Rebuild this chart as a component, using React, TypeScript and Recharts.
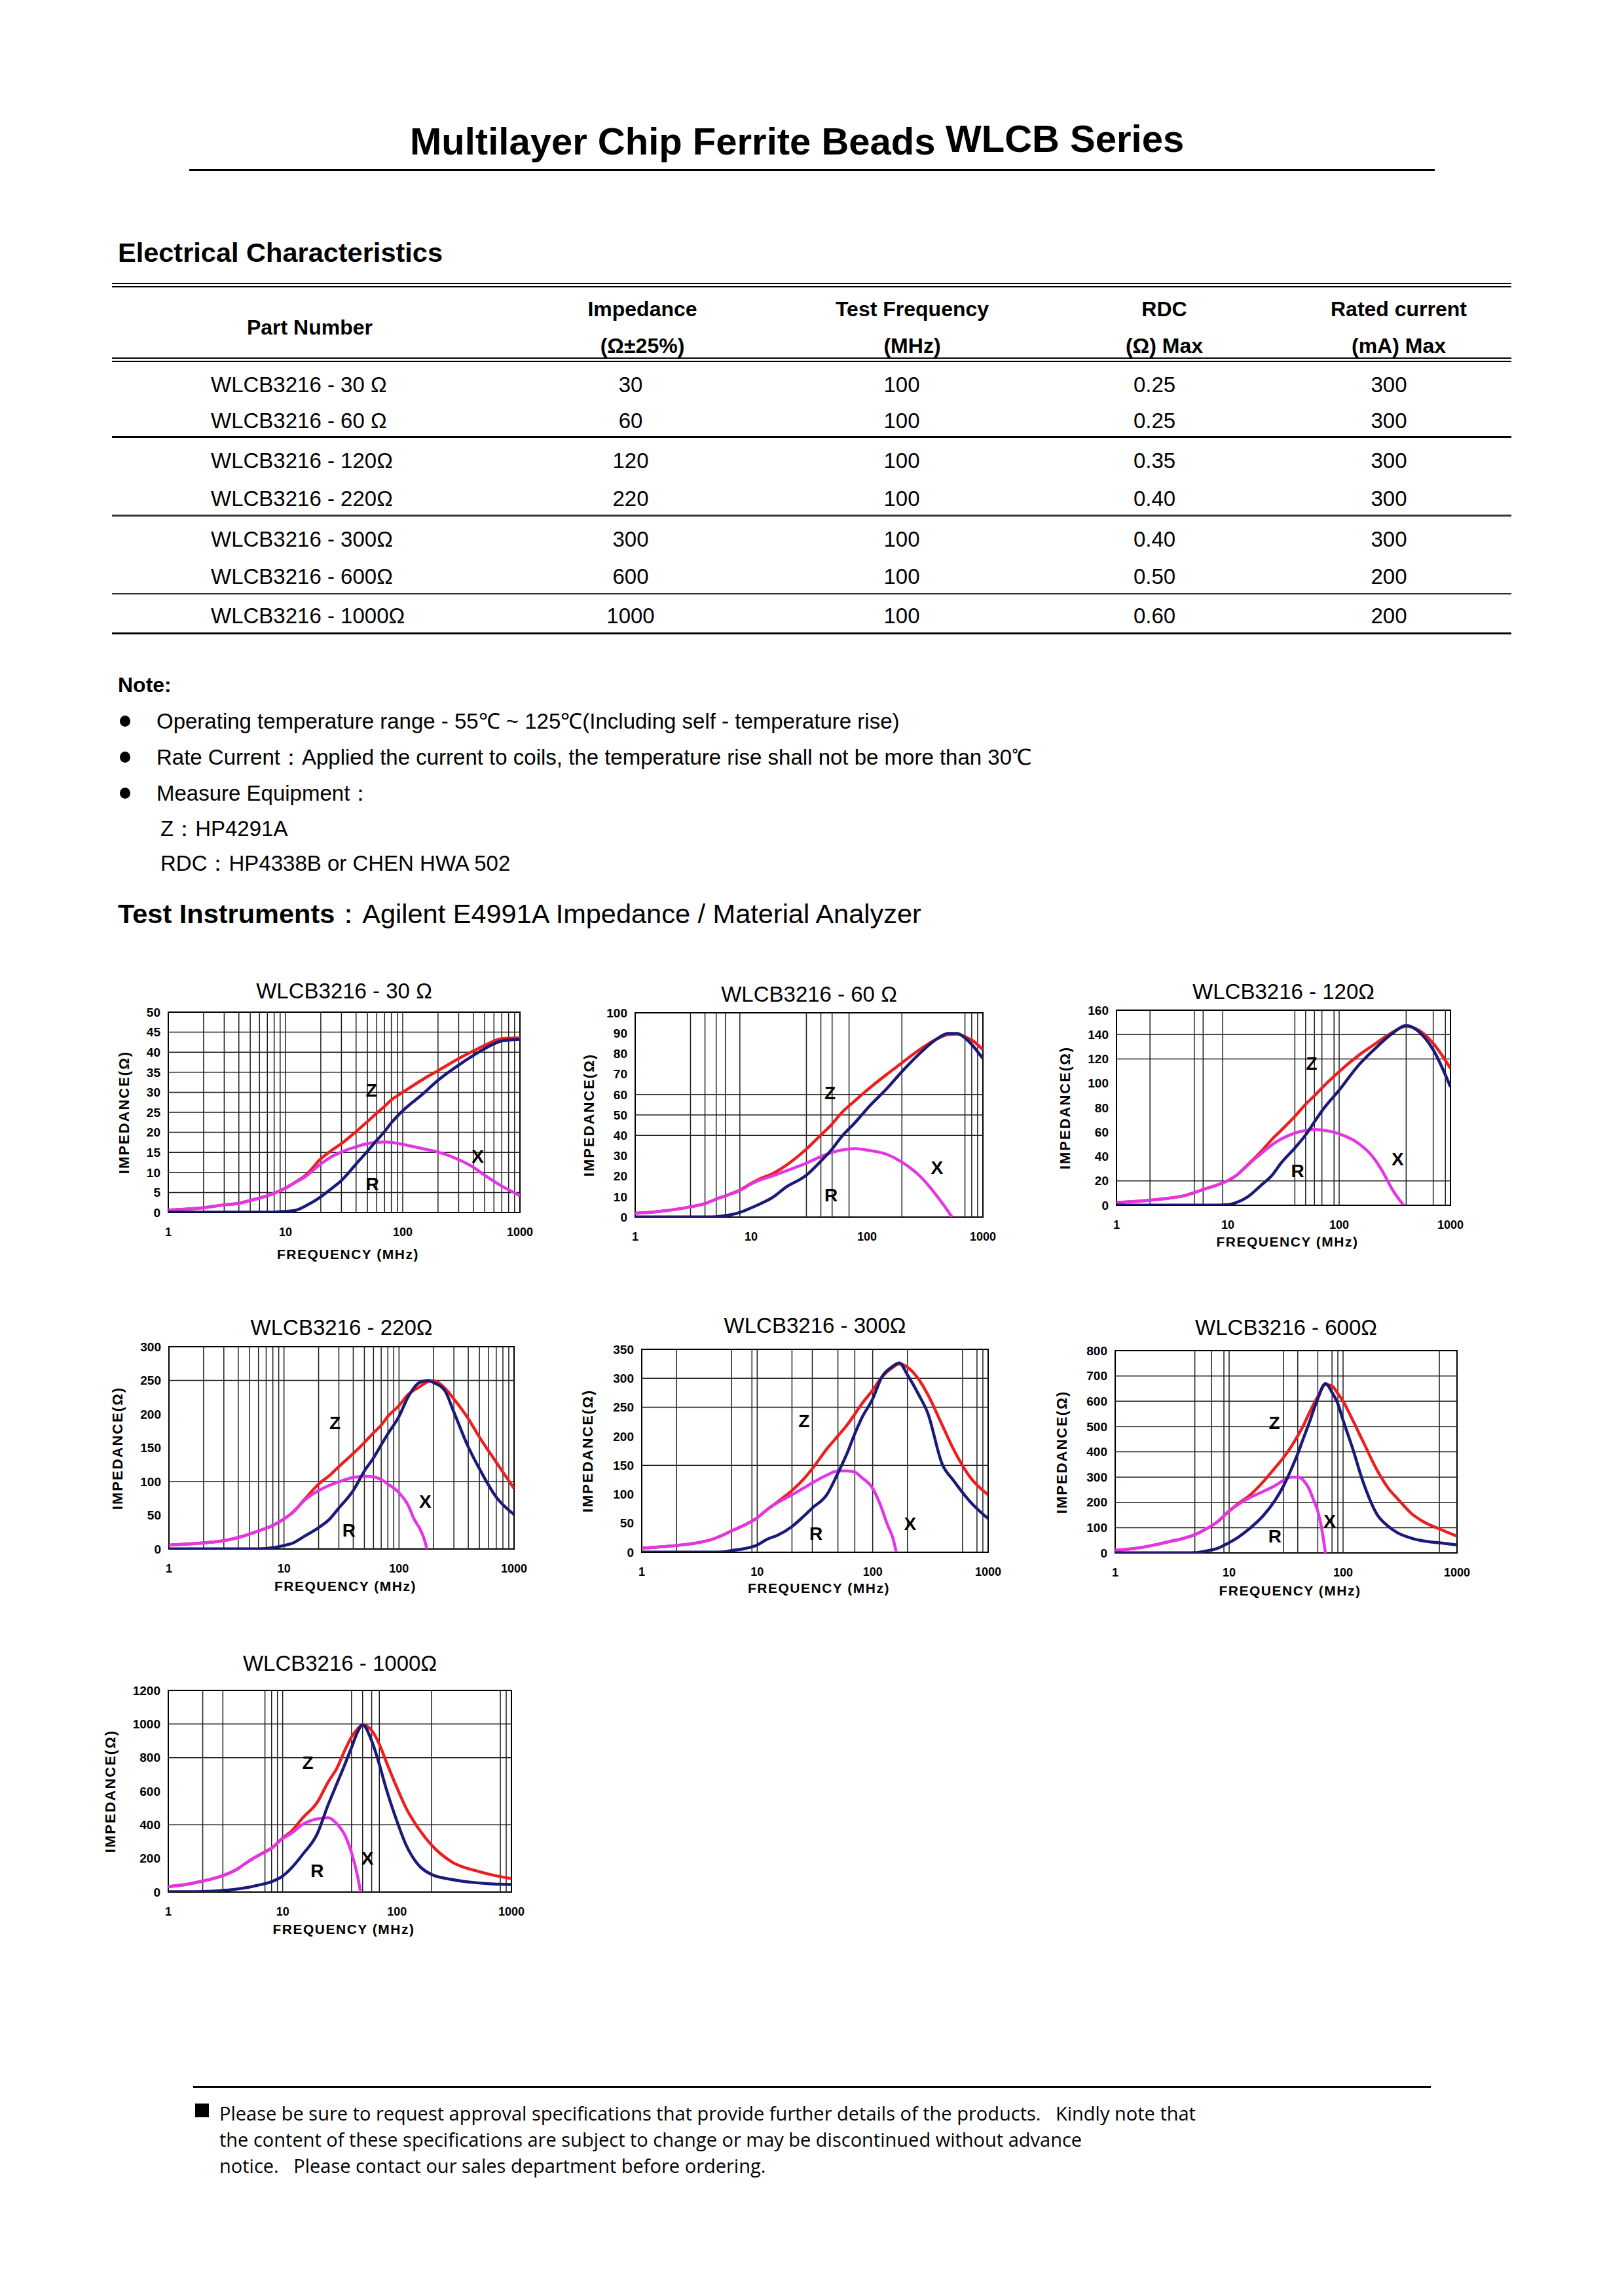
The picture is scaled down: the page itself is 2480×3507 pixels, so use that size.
import React from 'react';
import {
  LineChart,
  Line,
  XAxis,
  YAxis,
  ReferenceLine,
  ReferenceArea,
  ReferenceDot,
} from 'recharts';

const FONT = '"Liberation Sans", Arial, Helvetica, sans-serif';
const RED = '#ec1f1f';
const NAVY = '#1a1a78';
const MAGENTA = '#e435e4';
const GRID = '#1e1e1e';

// ---- table data ----
const partNumbers = [
  'WLCB3216 - 30 Ω',
  'WLCB3216 - 60 Ω',
  'WLCB3216 - 120Ω',
  'WLCB3216 - 220Ω',
  'WLCB3216 - 300Ω',
  'WLCB3216 - 600Ω',
  'WLCB3216 - 1000Ω',
];
const impedances = ['30', '60', '120', '220', '300', '600', '1000'];
const testFreqs = ['100', '100', '100', '100', '100', '100', '100'];
const rdcMax = ['0.25', '0.25', '0.35', '0.40', '0.40', '0.50', '0.60'];
const ratedCurrent = ['300', '300', '300', '300', '300', '200', '200'];

// ---- chart data (frequency in MHz, impedance in ohm) ----
const xTicks = [1, 10, 100, 1000];
const fullMinor = [2, 3, 4, 5, 6, 7, 8, 9, 10, 20, 30, 40, 50, 60, 70, 80, 90, 100, 200, 300, 400, 500, 600, 700, 800, 900];

// 30 ohm
const freq30 = [1, 1.5, 2, 3, 4, 5, 6, 7, 8, 10, 12, 15, 20, 25, 30, 40, 50, 60, 70, 80, 100, 150, 200, 300, 400, 500, 700, 1000];
const z30 = [0.6, 0.9, 1.2, 1.9, 2.3, 3.0, 3.6, 4.2, 4.8, 6.1, 7.5, 9.4, 13.4, 15.6, 17.2, 20.2, 22.7, 24.8, 26.5, 28.1, 30.0, 33.3, 35.4, 38.4, 40.3, 41.7, 43.4, 43.6];
const r30 = [0.1, 0.1, 0.1, 0.1, 0.1, 0.1, 0.1, 0.1, 0.1, 0.3, 0.5, 1.7, 3.9, 6.1, 8.0, 12.1, 15.3, 18.0, 20.2, 22.4, 25.4, 29.7, 33.0, 36.8, 39.2, 40.9, 42.8, 43.2];
const xFreq30 = freq30;
const x30 = [0.5, 0.9, 1.2, 1.9, 2.3, 3.0, 3.6, 4.2, 4.8, 6.1, 7.4, 9.1, 12.1, 14.0, 15.1, 16.4, 17.2, 17.5, 17.6, 17.5, 17.0, 15.9, 15.1, 13.2, 11.3, 9.3, 6.6, 4.2];
const yTicks30 = [0, 5, 10, 15, 20, 25, 30, 35, 40, 45, 50];
const hGrid30 = [5, 10, 15, 20, 25, 30, 35, 40, 45];
const vGrid30 = fullMinor;
const marks30 = [{ t: 'Z', f: 54, v: 30.5 }, { t: 'R', f: 55, v: 7.2 }, { t: 'X', f: 437, v: 14 }];

// 60 ohm
const freq60 = [1, 1.5, 2, 3, 4, 5, 6, 8, 10, 12, 15, 20, 30, 40, 50, 60, 80, 100, 150, 200, 300, 400, 500, 600, 700, 800, 1000];
const z60 = [1.9, 2.6, 3.4, 5.0, 6.6, 8.8, 10.4, 13.2, 16.5, 18.8, 21.0, 25.3, 33.3, 40.2, 45.6, 50.9, 57.3, 62.1, 70.1, 75.5, 82.9, 87.2, 89.3, 89.6, 88.3, 86.7, 81.9];
const r60 = [0.1, 0.1, 0.1, 0.1, 0.1, 0.2, 0.7, 2.3, 4.5, 6.5, 9.3, 14.6, 20.5, 27.4, 33.3, 39.2, 46.6, 53.0, 63.2, 71.2, 81.3, 87.2, 89.9, 89.9, 87.7, 84.5, 77.6];
const xFreq60 = [1, 1.5, 2, 3, 4, 5, 6, 8, 10, 12, 15, 20, 30, 40, 50, 60, 80, 100, 150, 200, 300, 400, 500, 540];
const x60 = [1.8, 2.6, 3.4, 5.0, 6.6, 8.8, 10.4, 13.0, 16.2, 18.2, 20.0, 22.6, 26.4, 29.6, 31.7, 32.8, 33.5, 32.8, 30.6, 26.9, 18.9, 10.4, 2.9, 0];
const yTicks60 = [0, 10, 20, 30, 40, 50, 60, 70, 80, 90, 100];
const hGrid60 = [40, 50, 60];
const vGrid60 = [3, 4, 5, 6, 8, 30, 40, 50, 70, 200, 700, 800, 900];
const marks60 = [{ t: 'Z', f: 48, v: 61 }, { t: 'R', f: 49, v: 10.9 }, { t: 'X', f: 402, v: 24.2 }];

// 120 ohm
const freq120 = [1, 1.5, 2, 3, 4, 5, 6, 8, 10, 12, 15, 20, 25, 30, 40, 50, 60, 70, 100, 150, 200, 300, 400, 500, 700, 1000];
const z120 = [2.3, 3.2, 4.1, 5.9, 7.7, 10.4, 13.0, 16.6, 20.2, 24.7, 33.0, 44.3, 54.2, 61.3, 72.9, 82.8, 89.9, 96.2, 109.6, 123.0, 131.0, 141.8, 146.8, 144.4, 132.8, 112.3];
const r120 = [0.2, 0.2, 0.2, 0.2, 0.2, 0.2, 0.2, 0.2, 0.5, 2.3, 6.8, 16.6, 24.7, 34.5, 47.0, 57.7, 68.5, 77.4, 94.4, 115.0, 126.6, 140.9, 147.5, 143.6, 127.5, 97.1];
const xFreq120 = [1, 1.5, 2, 3, 4, 5, 6, 8, 10, 12, 15, 20, 25, 30, 40, 50, 60, 70, 100, 150, 200, 250, 300, 350, 380];
const x120 = [2.3, 3.2, 4.1, 5.9, 7.7, 10.4, 13.0, 16.6, 20.2, 24.7, 32.7, 42.5, 49.7, 54.2, 59.2, 61.3, 62.2, 61.7, 58.6, 50.6, 39.9, 26.5, 13.0, 4.1, 0];
const yTicks120 = [0, 20, 40, 60, 80, 100, 120, 140, 160];
const hGrid120 = [20, 120, 140];
const vGrid120 = [2, 5, 6, 9, 40, 50, 60, 70, 90, 100, 400, 700, 900];
const marks120 = [{ t: 'Z', f: 56.7, v: 116.7 }, { t: 'R', f: 42.4, v: 28.2 }, { t: 'X', f: 335, v: 38 }];

// 220 ohm
const freq220 = [1, 1.5, 2, 3, 4, 5, 6, 8, 10, 12, 15, 20, 25, 30, 40, 50, 60, 70, 80, 100, 120, 150, 180, 200, 250, 300, 400, 500, 700, 1000];
const z220 = [5.8, 7.5, 9.0, 12.3, 17.0, 22.0, 26.8, 35.0, 44.6, 55.0, 73.0, 96.3, 109.3, 122.2, 141.6, 157.8, 172.3, 183.6, 196.6, 212.7, 228.9, 240.2, 248.3, 249.3, 238.6, 222.4, 193.3, 165.9, 128.7, 89.9];
const r220 = [0.3, 0.3, 0.3, 0.3, 0.3, 0.3, 0.3, 1.9, 5.2, 9.0, 18.8, 31.7, 44.6, 60.8, 86.6, 115.7, 135.1, 154.5, 170.7, 196.6, 225.7, 246.7, 250.0, 246.7, 235.0, 203.0, 151.3, 119.0, 77.0, 51.1];
const xFreq220 = [1, 1.5, 2, 3, 4, 5, 6, 8, 10, 12, 15, 20, 25, 30, 40, 50, 60, 70, 80, 100, 120, 135, 150, 165, 175];
const x220 = [5.8, 7.5, 9.0, 12.3, 17.0, 22.0, 26.8, 35.0, 44.6, 54.3, 72.0, 86.6, 94.7, 99.6, 106.0, 107.7, 107.0, 102.8, 96.3, 83.4, 65.0, 44.6, 31.7, 15.5, 0];
const yTicks220 = [0, 50, 100, 150, 200, 250, 300];
const hGrid220 = [100, 250];
const vGrid220 = fullMinor;
const marks220 = [{ t: 'Z', f: 27.8, v: 187 }, { t: 'R', f: 36.7, v: 28.5 }, { t: 'X', f: 169, v: 70.5 }];

// 300 ohm
const freq300 = [1, 1.5, 2, 3, 4, 5, 6, 8, 10, 12, 15, 20, 25, 30, 40, 50, 60, 70, 80, 100, 120, 150, 170, 200, 250, 300, 400, 500, 700, 1000];
const z300 = [7.0, 9.5, 11.7, 16.2, 21.8, 29.4, 36.9, 48.2, 59.5, 72.6, 87.0, 106.5, 125.3, 144.1, 178.0, 200.6, 219.4, 238.2, 255.2, 279.6, 302.2, 319.2, 324.8, 319.2, 298.5, 272.1, 219.4, 178.0, 129.1, 99.0];
const r300 = [0.3, 0.3, 0.3, 0.3, 0.3, 0.5, 3.0, 6.8, 12.4, 21.8, 29.4, 44.4, 61.3, 76.4, 99.0, 136.6, 170.5, 204.4, 230.7, 264.6, 302.2, 321.0, 326.7, 306.0, 272.0, 240.0, 152.0, 124.0, 87.0, 58.0];
const xFreq300 = [1, 1.5, 2, 3, 4, 5, 6, 8, 10, 12, 15, 20, 25, 30, 40, 50, 60, 70, 80, 100, 115, 135, 150, 160];
const x300 = [6.8, 9.5, 11.7, 16.2, 21.8, 29.4, 36.9, 48.2, 59.5, 72.6, 85.8, 99.0, 110.3, 119.7, 132.9, 140.4, 140.4, 138.5, 129.1, 110.3, 84.7, 46.3, 23.7, 0];
const yTicks300 = [0, 50, 100, 150, 200, 250, 300, 350];
const hGrid300 = [150, 250, 300];
const vGrid300 = [2, 6, 9, 10, 20, 30, 50, 70, 100, 200, 600, 800, 900];
const marks300 = [{ t: 'Z', f: 25.4, v: 227 }, { t: 'R', f: 32.3, v: 33 }, { t: 'X', f: 211, v: 50 }];

// 600 ohm
const freq600 = [1, 1.5, 2, 3, 4, 5, 6, 8, 10, 12, 15, 20, 25, 30, 35, 40, 45, 50, 60, 70, 80, 90, 100, 120, 150, 200, 250, 300, 400, 500, 700, 1000];
const z600 = [10.4, 18.0, 27.6, 44.9, 58.0, 72.0, 90.0, 125.0, 165.7, 195.0, 226.0, 282.1, 333.9, 377.0, 420.0, 463.3, 505.0, 549.6, 618.6, 666.1, 660.0, 630.0, 600.0, 530.0, 440.0, 325.0, 255.0, 215.0, 155.0, 125.0, 95.0, 66.0];
const r600 = [0.5, 0.5, 0.5, 0.5, 0.5, 1.0, 6.0, 19.0, 40.6, 62.0, 95.0, 148.0, 204.5, 265.0, 330.0, 392.0, 455.0, 510.0, 610.0, 670.0, 635.0, 590.0, 525.0, 420.0, 280.0, 150.0, 105.0, 80.0, 58.0, 48.0, 40.0, 32.0];
const xFreq600 = [1, 1.5, 2, 3, 4, 5, 6, 8, 10, 12, 15, 20, 25, 30, 35, 40, 45, 50, 55, 60, 65, 70];
const x600 = [10.4, 18.0, 27.6, 44.9, 58.0, 72.0, 90.0, 125.0, 165.7, 191.5, 217.4, 243.3, 264.9, 286.5, 299.4, 299.4, 286.5, 256.0, 210.0, 165.0, 95.0, 0];
const yTicks600 = [0, 100, 200, 300, 400, 500, 600, 700, 800];
const hGrid600 = [100, 200, 300, 400, 500, 600, 700];
const vGrid600 = [5, 7, 9, 10, 30, 40, 60, 80, 90, 100, 700];
const marks600 = [{ t: 'Z', f: 24.9, v: 515 }, { t: 'R', f: 25.2, v: 66 }, { t: 'X', f: 76.3, v: 127 }];

// 1000 ohm
const freq1000 = [1, 1.5, 2, 3, 4, 5, 6, 7, 8, 10, 12, 15, 20, 25, 30, 35, 40, 45, 50, 60, 70, 80, 100, 120, 150, 200, 300, 500, 700, 1000];
const z1000 = [32.5, 48.0, 65.0, 97.5, 136.5, 182.0, 214.5, 240.0, 262.0, 322.0, 364.0, 442.0, 533.0, 655.0, 741.0, 845.0, 923.0, 970.0, 994.5, 962.0, 880.0, 780.0, 620.0, 500.0, 390.0, 280.0, 180.0, 125.0, 100.0, 80.0];
const r1000 = [2, 2, 3, 10, 18, 28, 40, 50, 62, 95, 145, 225, 345, 520, 650, 760, 860, 950, 994, 900, 760, 620, 420, 280, 170, 105, 75, 55, 48, 45];
const xFreq1000 = [1, 1.5, 2, 3, 4, 5, 6, 8, 10, 12, 15, 20, 25, 30, 35, 40, 45, 48];
const x1000 = [32.5, 48.0, 65.0, 97.5, 136.5, 182.0, 214.5, 260.0, 318.5, 351.0, 403.0, 435.5, 442.0, 403.0, 338.0, 234.0, 100.0, 0];
const yTicks1000 = [0, 200, 400, 600, 800, 1000, 1200];
const hGrid1000 = [400, 800, 1000];
const vGrid1000 = [2, 3, 7, 8, 9, 10, 40, 50, 60, 70, 200, 800, 900];
const marks1000 = [{ t: 'Z', f: 16.6, v: 773 }, { t: 'R', f: 20, v: 130 }, { t: 'X', f: 55, v: 201 }];

type Mark = { t: string; f: number; v: number };
interface ChartCfg {
  title: string;
  px: number;
  py: number;
  pw: number;
  ph: number;
  yMax: number;
  yTicks: number[];
  vGrid: number[];
  hGrid: number[];
  freq: number[];
  z: number[];
  r: number[];
  xFreq: number[];
  x: number[];
  marks: Mark[];
  yGap: number;
  titleY: number;
  freqGap: number | null;
}

const charts: ChartCfg[] = [
  { title: 'WLCB3216 - 30 Ω', px: 257, py: 1546, pw: 537, ph: 306, yMax: 50, yTicks: yTicks30, vGrid: vGrid30, hGrid: hGrid30, freq: freq30, z: z30, r: r30, xFreq: xFreq30, x: x30, marks: marks30, yGap: 67, titleY: 1513, freqGap: 63 },
  { title: 'WLCB3216 - 60 Ω', px: 970, py: 1547, pw: 531, ph: 312, yMax: 100, yTicks: yTicks60, vGrid: vGrid60, hGrid: hGrid60, freq: freq60, z: z60, r: r60, xFreq: xFreq60, x: x60, marks: marks60, yGap: 70, titleY: 1518, freqGap: null },
  { title: 'WLCB3216 - 120Ω', px: 1705, py: 1543, pw: 510, ph: 298, yMax: 160, yTicks: yTicks120, vGrid: vGrid120, hGrid: hGrid120, freq: freq120, z: z120, r: r120, xFreq: xFreq120, x: x120, marks: marks120, yGap: 78, titleY: 1514, freqGap: 55 },
  { title: 'WLCB3216 - 220Ω', px: 258, py: 2057, pw: 527, ph: 309, yMax: 300, yTicks: yTicks220, vGrid: vGrid220, hGrid: hGrid220, freq: freq220, z: z220, r: r220, xFreq: xFreq220, x: x220, marks: marks220, yGap: 78, titleY: 2027, freqGap: 56 },
  { title: 'WLCB3216 - 300Ω', px: 980, py: 2061, pw: 529, ph: 310, yMax: 350, yTicks: yTicks300, vGrid: vGrid300, hGrid: hGrid300, freq: freq300, z: z300, r: r300, xFreq: xFreq300, x: x300, marks: marks300, yGap: 82, titleY: 2024, freqGap: 54 },
  { title: 'WLCB3216 - 600Ω', px: 1703, py: 2063, pw: 522, ph: 309, yMax: 800, yTicks: yTicks600, vGrid: vGrid600, hGrid: hGrid600, freq: freq600, z: z600, r: r600, xFreq: xFreq600, x: x600, marks: marks600, yGap: 81, titleY: 2027, freqGap: 57 },
  { title: 'WLCB3216 - 1000Ω', px: 257, py: 2582, pw: 524, ph: 308, yMax: 1200, yTicks: yTicks1000, vGrid: vGrid1000, hGrid: hGrid1000, freq: freq1000, z: z1000, r: r1000, xFreq: xFreq1000, x: x1000, marks: marks1000, yGap: 88, titleY: 2540, freqGap: 56 },
];

interface TxtProps {
  x: number;
  y: number;
  size: number;
  bold?: boolean;
  align?: 'left' | 'center' | 'right';
  family?: string;
  style?: React.CSSProperties;
  children: React.ReactNode;
}

// text placed by its left/centre x and its vertical centre y
function Txt({ x, y, size, bold, align = 'left', family = FONT, style, children }: TxtProps) {
  const tx = align === 'center' ? '-50%' : align === 'right' ? '-100%' : '0';
  return (
    <div
      style={{
        position: 'absolute',
        left: x,
        top: y,
        transform: `translate(${tx}, -50%)`,
        fontSize: size,
        fontWeight: bold ? 700 : 400,
        fontFamily: family,
        whiteSpace: 'nowrap',
        lineHeight: 1,
        color: '#000',
        ...style,
      }}
    >
      {children}
    </div>
  );
}

function Rule({ x, y, w, h, color = '#000' }: { x: number; y: number; w: number; h: number; color?: string }) {
  return <div style={{ position: 'absolute', left: x, top: y, width: w, height: h, background: color }} />;
}

function ImpedanceChart({ c }: { c: ChartCfg }) {
  const ML = 100;
  const MT = 12;
  const MR = 24;
  const MB = 40;
  const W = ML + c.pw + MR;
  const H = MT + c.ph + MB;
  const zData = c.freq.map((f, i) => ({ f, z: c.z[i] }));
  const rData = c.freq.map((f, i) => ({ f, r: c.r[i] }));
  const xData = c.xFreq.map((f, i) => ({ f, x: c.x[i] }));
  const tickFont = { fontFamily: FONT, fontWeight: 700, fill: '#000' };

  return (
    <>
      <Txt x={c.px + c.pw / 2} y={c.titleY} size={33} align="center">
        {c.title}
      </Txt>
      <div
        style={{
          position: 'absolute',
          left: c.px - c.yGap,
          top: c.py + c.ph / 2,
          transform: 'translate(-50%, -50%) rotate(-90deg)',
          fontFamily: FONT,
          fontWeight: 700,
          fontSize: 22,
          letterSpacing: 2,
          whiteSpace: 'nowrap',
          lineHeight: 1,
        }}
      >
        IMPEDANCE(Ω)
      </div>
      {c.freqGap !== null && (
        <Txt x={c.px + c.pw / 2 + 6} y={c.py + c.ph + c.freqGap} size={21} bold align="center" style={{ letterSpacing: 1.5 }}>
          FREQUENCY (MHz)
        </Txt>
      )}
      <div style={{ position: 'absolute', left: c.px - ML, top: c.py - MT }}>
        <LineChart width={W} height={H} margin={{ top: MT, right: MR, left: 0, bottom: 0 }}>
          <XAxis
            dataKey="f"
            type="number"
            scale="log"
            domain={[1, 1000]}
            ticks={xTicks}
            allowDataOverflow
            interval={0}
            height={MB}
            axisLine={false}
            tickLine={false}
            tickSize={8}
            tickMargin={15}
            tick={{ ...tickFont, fontSize: 18 }}
          />
          <YAxis
            type="number"
            domain={[0, c.yMax]}
            ticks={c.yTicks}
            allowDataOverflow
            interval={0}
            width={ML}
            axisLine={false}
            tickLine={false}
            tickSize={4}
            tickMargin={8}
            tick={{ ...tickFont, fontSize: 19 }}
          />
          {c.vGrid.map((f) => (
            <ReferenceLine key={'v' + f} x={f} stroke={GRID} strokeWidth={1.5} />
          ))}
          {c.hGrid.map((v) => (
            <ReferenceLine key={'h' + v} y={v} stroke={GRID} strokeWidth={1.5} />
          ))}
          <ReferenceArea x1={1} x2={1000} y1={0} y2={c.yMax} fill="none" fillOpacity={0} stroke="#000" strokeWidth={2} />
          <Line data={zData} dataKey="z" type="monotone" stroke={RED} strokeWidth={4.5} dot={false} isAnimationActive={false} />
          <Line data={xData} dataKey="x" type="monotone" stroke={MAGENTA} strokeWidth={4.5} dot={false} isAnimationActive={false} />
          <Line data={rData} dataKey="r" type="monotone" stroke={NAVY} strokeWidth={4.5} dot={false} isAnimationActive={false} />
          {c.marks.map((m) => (
            <ReferenceDot
              key={m.t}
              x={m.f}
              y={m.v}
              r={1}
              fill="none"
              stroke="none"
              label={{ value: m.t, position: 'center', fontSize: 28, fontWeight: 700, fill: '#000', fontFamily: FONT }}
            />
          ))}
        </LineChart>
      </div>
    </>
  );
}

const rowY = [587, 642, 703, 761, 823, 880, 940];
const colX = { imp: 963, freq: 1377, rdc: 1763, rated: 2121 };
const headX = { part: 473, imp: 981, freq: 1393, rdc: 1778, rated: 2136 };
const FOOT_FONT = '"Open Sans", sans-serif';

export default function App() {
  return (
    <div
      style={{
        position: 'absolute',
        left: 0,
        top: 0,
        width: 2480,
        height: 3507,
        background: '#fff',
        fontFamily: FONT,
        color: '#000',
        overflow: 'hidden',
      }}
    >
      {/* page title */}
      <Txt x={626} y={216} size={58} bold>
        Multilayer Chip Ferrite Beads
      </Txt>
      <Txt x={1444} y={212} size={58} bold>
        WLCB Series
      </Txt>
      <Rule x={289} y={258} w={1902} h={3} />

      <Txt x={180} y={386} size={41.5} bold>
        Electrical Characteristics
      </Txt>

      {/* table */}
      <Rule x={171} y={432} w={2137} h={2} />
      <Rule x={171} y={437} w={2137} h={2} />
      <Txt x={headX.part} y={500} size={32} bold align="center">Part Number</Txt>
      <Txt x={headX.imp} y={472} size={32} bold align="center">Impedance</Txt>
      <Txt x={headX.imp} y={528} size={32} bold align="center">(Ω±25%)</Txt>
      <Txt x={headX.freq} y={472} size={32} bold align="center">Test Frequency</Txt>
      <Txt x={headX.freq} y={528} size={32} bold align="center">(MHz)</Txt>
      <Txt x={headX.rdc} y={472} size={32} bold align="center">RDC</Txt>
      <Txt x={headX.rdc} y={528} size={32} bold align="center">(Ω) Max</Txt>
      <Txt x={headX.rated} y={472} size={32} bold align="center">Rated current</Txt>
      <Txt x={headX.rated} y={528} size={32} bold align="center">(mA) Max</Txt>
      <Rule x={171} y={546} w={2137} h={2} />
      <Rule x={171} y={551} w={2137} h={2} />
      {partNumbers.map((p, i) => (
        <React.Fragment key={p}>
          <Txt x={322} y={rowY[i]} size={33}>{p}</Txt>
          <Txt x={colX.imp} y={rowY[i]} size={33} align="center">{impedances[i]}</Txt>
          <Txt x={colX.freq} y={rowY[i]} size={33} align="center">{testFreqs[i]}</Txt>
          <Txt x={colX.rdc} y={rowY[i]} size={33} align="center">{rdcMax[i]}</Txt>
          <Txt x={colX.rated} y={rowY[i]} size={33} align="center">{ratedCurrent[i]}</Txt>
        </React.Fragment>
      ))}
      <Rule x={171} y={666} w={2137} h={3} />
      <Rule x={171} y={786} w={2137} h={3} color="#333" />
      <Rule x={171} y={906} w={2137} h={2} color="#333" />
      <Rule x={171} y={966} w={2137} h={3} />

      {/* notes */}
      <Txt x={180} y={1046} size={32} bold>Note:</Txt>
      {[1101, 1156, 1211].map((y) => (
        <div key={y} style={{ position: 'absolute', left: 183, top: y - 8, width: 16, height: 17, borderRadius: '50%', background: '#000' }} />
      ))}
      <Txt x={239} y={1101} size={33}>Operating temperature range - 55℃ ~ 125℃(Including self - temperature rise)</Txt>
      <Txt x={239} y={1156} size={33}>Rate Current：Applied the current to coils, the temperature rise shall not be more than 30℃</Txt>
      <Txt x={239} y={1211} size={33}>Measure Equipment：</Txt>
      <Txt x={245} y={1265} size={33}>Z：HP4291A</Txt>
      <Txt x={245} y={1318} size={33}>RDC：HP4338B or CHEN HWA 502</Txt>

      <Txt x={180} y={1396} size={41.5}>
        <span style={{ fontWeight: 700 }}>Test Instruments</span>：Agilent E4991A Impedance / Material Analyzer
      </Txt>

      {/* impedance charts */}
      {charts.map((c) => (
        <ImpedanceChart key={c.title} c={c} />
      ))}

      {/* footer */}
      <Rule x={295} y={3186} w={1890} h={3} />
      <Rule x={298} y={3213} w={21} h={21} />
      <Txt x={335} y={3227} size={29} family={FOOT_FONT}>
        Please be sure to request approval specifications that provide further details of the products.&nbsp;&nbsp; Kindly note that
      </Txt>
      <Txt x={335} y={3267} size={29} family={FOOT_FONT}>
        the content of these specifications are subject to change or may be discontinued without advance
      </Txt>
      <Txt x={335} y={3307} size={29} family={FOOT_FONT}>
        notice.&nbsp;&nbsp; Please contact our sales department before ordering.
      </Txt>
    </div>
  );
}
